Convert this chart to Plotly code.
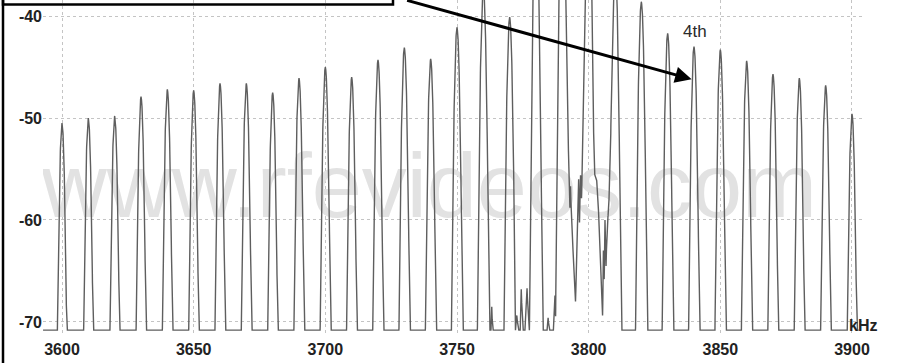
import numpy as np
import plotly.graph_objects as go

# ---- data ----
peak_khz = [3600, 3610, 3620, 3630, 3640, 3650, 3660, 3670, 3680, 3690,
            3700, 3710, 3720, 3730, 3740, 3750, 3760, 3770, 3780, 3790,
            3800, 3810, 3820, 3830, 3840, 3850, 3860, 3870, 3880, 3890, 3900]
peak_db = [-50.5, -50.0, -49.8, -47.9, -47.2, -47.3, -46.6, -46.6, -47.5, -46.1,
           -45.0, -46.0, -44.3, -43.1, -44.2, -41.1, -37.3, -40.1, -29.7, -26.6,
           -28.0, -34.5, -38.6, -41.7, -43.0, -43.3, -44.4, -45.7, -46.1, -46.8, -49.6]
floor_db = -70.8

# spectral line shape (resolution filter): dB below peak vs. offset
shape_off_khz = [0.0, 0.25, 0.5, 0.75, 1.0, 1.25, 1.5, 1.75, 2.0, 2.25, 2.5, 2.75, 3.0]
shape_drop_db = [0.0, 0.41, 1.65, 3.71, 6.6, 10.3, 14.85, 20.2, 26.4, 33.4, 41.25, 49.9, 59.4]

# noise between the central lines
noise_khz = [3762.9, 3763.2, 3763.5,
             3772.2, 3772.7, 3773.2, 3774.0, 3774.4, 3774.9, 3775.8, 3776.6, 3777.2,
             3784.2, 3784.6, 3785.0, 3786.6, 3787.2, 3787.6,
             3791.5, 3792.0, 3792.6, 3792.9, 3793.1, 3793.4, 3795.0, 3795.8, 3796.2,
             3796.5, 3796.9, 3797.3, 3797.8, 3798.4, 3799.0,
             3801.0, 3801.5, 3802.2, 3803.0, 3803.5, 3805.3, 3805.6, 3805.9, 3806.2,
             3806.6, 3807.0, 3807.6, 3808.2, 3809.0]
noise_db = [-70.8, -68.5, -70.8,
            -70.8, -69.3, -70.8, -70.8, -66.8, -70.8, -70.8, -66.7, -70.8,
            -70.8, -69.6, -70.8, -70.8, -67.4, -70.8,
            -70.8, -50.0, -56.0, -59.0, -56.5, -59.5, -68.0, -61.0, -56.0,
            -60.5, -55.5, -58.0, -52.0, -45.0, -70.8,
            -70.8, -50.0, -55.5, -56.0, -57.5, -69.5, -63.0, -66.0, -60.0,
            -64.5, -60.5, -59.0, -54.0, -70.8]

x_ticks = [3600, 3650, 3700, 3750, 3800, 3850, 3900]
y_ticks = [-40, -50, -60, -70]

# ---- build the trace ----
f = np.arange(3592.8, 3902.6, 0.04)
lvl = np.full_like(f, floor_db)
for fc, pk in zip(peak_khz, peak_db):
    drop = np.interp(np.abs(f - fc), shape_off_khz, shape_drop_db, right=200.0)
    lvl = np.maximum(lvl, pk - drop)
lvl = np.maximum(lvl, np.interp(f, noise_khz, noise_db, left=floor_db, right=floor_db))

fig = go.Figure()
fig.add_trace(go.Scatter(
    x=[3739.5], y=[-57.5], mode="text", text=["www.rfevideos.com"],
    textfont=dict(family="Liberation Sans, Arial", size=90, color="#e2e2e2"),
    hoverinfo="skip", showlegend=False))
fig.add_trace(go.Scatter(
    x=f, y=lvl, mode="lines", line=dict(color="#5e5e5e", width=1.4),
    hoverinfo="skip", showlegend=False))

L, R, T, B = 43, 35, 0, 29
W, H = 897, 363
pw, ph = W - L - R, H - T - B

def px(xp):
    return (xp - L) / pw

def py(yp):
    return (H - B - yp) / ph

grid = dict(showgrid=True, gridcolor="#c4c4c4", griddash="dot", gridwidth=1,
            zeroline=False, showline=False, ticks="")
tfont = dict(family="Liberation Sans, Arial", size=16, color="#222222", weight="bold")

fig.update_layout(
    width=W, height=H, margin=dict(l=L, r=R, t=T, b=B),
    paper_bgcolor="white", plot_bgcolor="white",
    xaxis=dict(range=[3592.78, 3903.8], tickvals=x_ticks, ticktext=[str(v) for v in x_ticks],
               tickfont=tfont, ticklabelstandoff=4, **grid),
    yaxis=dict(range=[-71.18, -38.43], tickvals=y_ticks, ticktext=[str(v) for v in y_ticks],
               tickfont=tfont, **grid),
    shapes=[
        dict(type="line", xref="paper", yref="paper", x0=px(3), x1=px(3), y0=py(375), y1=py(-10),
             line=dict(color="black", width=2.5)),
        dict(type="rect", xref="paper", yref="paper", x0=px(3), x1=px(393), y0=py(4.5), y1=py(-20),
             line=dict(color="black", width=2.5), fillcolor="rgba(0,0,0,0)"),
    ],
    annotations=[
        dict(x=3839.1, y=-46.2, xref="x", yref="y", text="", showarrow=True,
             ax=-286, ay=-81, arrowhead=2, arrowsize=1.1, arrowwidth=3, arrowcolor="black"),
        dict(x=3840.2, y=-41.5, xref="x", yref="y", text="4th", showarrow=False,
             font=dict(family="Liberation Sans, Arial", size=17, color="#2a2a2a")),
        dict(x=px(879), y=-70.3, xref="paper", yref="y", text="<b>kHz</b>", showarrow=False,
             font=dict(family="Liberation Sans, Arial", size=16, color="#222222")),
    ],
)

fig.write_html("out.html")
